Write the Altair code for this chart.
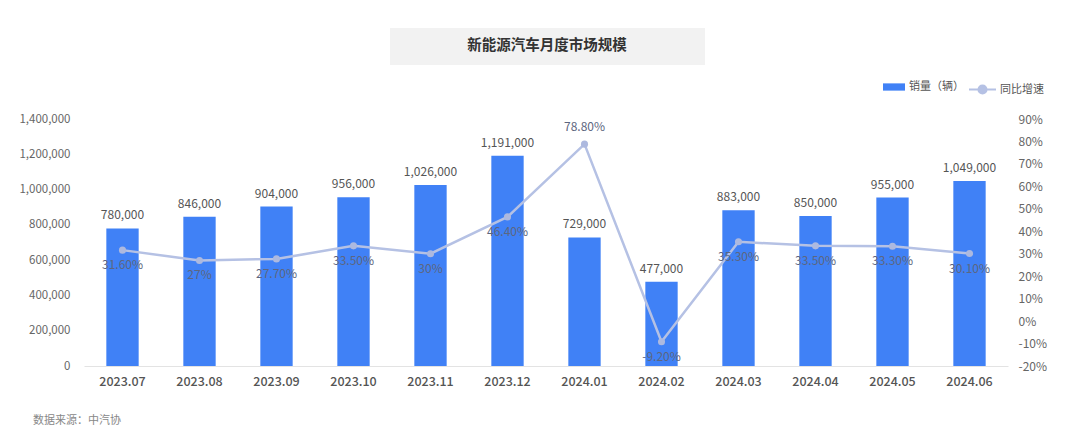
import altair as alt
import pandas as pd

months = ["2023.07", "2023.08", "2023.09", "2023.10", "2023.11", "2023.12",
          "2024.01", "2024.02", "2024.03", "2024.04", "2024.05", "2024.06"]
sales = [780000, 846000, 904000, 956000, 1026000, 1191000,
         729000, 477000, 883000, 850000, 955000, 1049000]
growth = [31.6, 27.0, 27.7, 33.5, 30.0, 46.4, 78.8, -9.2, 35.3, 33.5, 33.3, 30.1]

title_text = "新能源汽车月度市场规模"
source_text = "数据来源：中汽协"
bar_name = "销量（辆）"
line_name = "同比增速"

def pct_label(v):
    return f"{v:.0f}%" if abs(v - round(v)) < 1e-9 else f"{v:.2f}%"

df = pd.DataFrame({
    "month": months,
    "sales": sales,
    "growth": growth,
    "sales_label": [f"{s:,}" for s in sales],
    "growth_label": [pct_label(g) for g in growth],
    "s1": bar_name,
    "s2": line_name,
})

FONT = "Noto Sans CJK SC"
BAR_C = "#4081f6"
LINE_C = "#b5c1e4"
POINT_C = "#adb9df"

x_enc = alt.X("month:N", sort=months,
              scale=alt.Scale(paddingInner=0.58, paddingOuter=0.29),
              axis=alt.Axis(title=None, labelAngle=0, ticks=False, labelPadding=9,
                            labelFontSize=12.5, labelColor="#555555", labelFontWeight=500,
                            domainColor="#e3e3e3", domainWidth=1, grid=False))

y_bar_scale = alt.Scale(domain=[0, 1400000], nice=False)
y_line_scale = alt.Scale(domain=[-20, 90], nice=False)

left_axis = alt.Axis(title=None, orient="left", values=list(range(0, 1400001, 200000)),
                     format=",.0f", grid=False, ticks=False, domain=False, labelPadding=14,
                     labelFontSize=11.5, labelColor="#666666")
right_axis = alt.Axis(title=None, orient="right", values=list(range(-20, 91, 10)),
                      labelExpr="datum.value + '%'", grid=False, ticks=False,
                      domain=False, labelPadding=10, labelFontSize=12,
                      labelColor="#666666")

y_bar = alt.Y("sales:Q", scale=y_bar_scale, axis=left_axis)
y_line = alt.Y("growth:Q", scale=y_line_scale, axis=right_axis)

base = alt.Chart(df)

bars = base.mark_bar(color=BAR_C).encode(
    x=x_enc,
    y=y_bar,
    color=alt.Color("s1:N", scale=alt.Scale(domain=[bar_name], range=[BAR_C]),
                    legend=alt.Legend(title=None, orient="none", legendX=798, legendY=-44,
                                      symbolType="M-1,-0.33H1V0.33H-1Z", symbolSize=484,
                                      labelFont=FONT, labelFontSize=11, labelColor="#555555",
                                      labelOffset=3, padding=0)),
)

bar_labels = base.mark_text(baseline="bottom", dy=-6, font=FONT, fontSize=12,
                            color="#555555").encode(
    x=x_enc,
    y=y_bar,
    text="sales_label:N",
)

bar_layer = alt.layer(bars, bar_labels)

line = base.mark_line(strokeWidth=2.5).encode(
    x=x_enc,
    y=y_line,
    stroke=alt.Stroke("s2:N", scale=alt.Scale(domain=[line_name], range=[LINE_C]),
                      legend=alt.Legend(title=None, orient="none", legendX=884, legendY=-44,
                                        symbolType="M-1,0H1M0.3,0A0.3,0.3,0,1,1,-0.3,0A0.3,0.3,0,1,1,0.3,0",
                                        symbolSize=729, symbolStrokeWidth=2,
                                        symbolFillColor=LINE_C,
                                        labelFont=FONT, labelFontSize=11, labelColor="#555555",
                                        labelOffset=3, padding=0)),
)

points = base.mark_point(filled=True, size=50, color=POINT_C, opacity=1).encode(
    x=x_enc,
    y=y_line,
)

line_labels_below = base.transform_filter("datum.growth < 70").mark_text(
    baseline="top", dy=10, font=FONT, fontSize=12, color="#5d6680").encode(
    x=x_enc,
    y=y_line,
    text="growth_label:N",
)
line_labels_above = base.transform_filter("datum.growth >= 70").mark_text(
    baseline="bottom", dy=-10, font=FONT, fontSize=12, color="#5d6680").encode(
    x=x_enc,
    y=y_line,
    text="growth_label:N",
)

line_layer = alt.layer(line, points, line_labels_below, line_labels_above)

one = alt.Data(values=[{"a": 1}])
title_box = alt.Chart(one).mark_rect(color="#f2f2f2").encode(
    x=alt.value(306), x2=alt.value(621), y=alt.value(-91), y2=alt.value(-54))
title_mark = alt.Chart(one).mark_text(font=FONT, fontSize=14.5, fontWeight="bold",
                                      color="#333333", align="center", baseline="middle").encode(
    x=alt.value(463), y=alt.value(-73), text=alt.value(title_text))
source_mark = alt.Chart(one).mark_text(font=FONT, fontSize=11, color="#888888",
                                       align="left", baseline="middle").encode(
    x=alt.value(-51), y=alt.value(302), text=alt.value(source_text))

chart = alt.layer(
    bar_layer, line_layer, title_box, title_mark, source_mark
).resolve_scale(y="independent", color="independent", stroke="independent").properties(
    width=924, height=247,
    autosize=alt.AutoSizeParams(type="none"),
    padding={"left": 76, "top": 111, "right": 64, "bottom": 60},
).configure(font=FONT, background="white").configure_view(stroke=None)

chart.save("out.html", embed_options={"renderer": "svg", "actions": False})
